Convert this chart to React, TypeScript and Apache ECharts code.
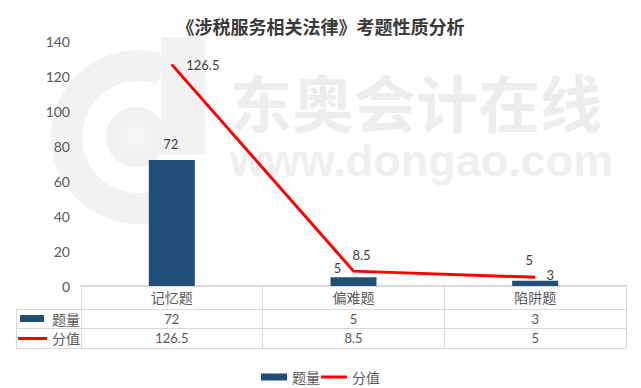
import React, { useEffect, useRef } from "react";
import * as echarts from "echarts";

const categories = ["记忆题", "偏难题", "陷阱题"];
const questionCounts = [72, 5, 3];
const scoreValues = [126.5, 8.5, 5];
const seriesNames = ["题量", "分值"];
const yMin = 0;
const yMax = 140;
const yInterval = 20;
const titleText = "《涉税服务相关法律》考题性质分析";
const watermarkCn = "东奥会计在线";
const watermarkEn = "www.dongao.com";

// layout / style constants
const BAR_COLOR = "#1F4E79";
const LINE_COLOR = "#FF0000";
const GRID_COLOR = "#D9D9D9";
const TEXT_COLOR = "#595959";
const LABEL_COLOR = "#404040";
const FONT = "Lato, 'Noto Sans CJK SC', sans-serif";
const WM = "#F2F2F2";
const barLabelOffsets = [[-1, -10], [-16, -3], [15, 1]];
const lineLabelOffsets = [[31, 7], [8, -9], [-6, -10]];

export default function App() {
  const ref = useRef<HTMLDivElement>(null);
  useEffect(() => {
    if (!ref.current) return;
    const chart = echarts.init(ref.current, null, { renderer: "svg" });
    const tableLeft = 16;
    const tableRight = 626;
    const rowLines = [309, 328, 348];
    const graphics: any[] = [
      // watermark logo
      {
        type: "sector",
        z: -10,
        silent: true,
        shape: { cx: 138, cy: 137, r0: 56, r: 87, startAngle: (70 * Math.PI) / 180, endAngle: (290 * Math.PI) / 180, clockwise: true },
        style: { fill: WM },
      },
      { type: "rect", z: -10, silent: true, shape: { x: 161, y: 37, width: 44, height: 118 }, style: { fill: WM } },
      {
        type: "circle",
        z: -10,
        silent: true,
        shape: { cx: 136, cy: 137, r: 30 },
        style: {
          fill: new echarts.graphic.RadialGradient(0.5, 0.5, 0.5, [
            { offset: 0, color: "#F7F7F7" },
            { offset: 1, color: "#F0F0F0" },
          ]),
        },
      },
      {
        type: "text",
        z: -10,
        silent: true,
        x: 230,
        y: 65,
        style: {
          text: `{cn|${watermarkCn}}\n{en|${watermarkEn}}`,
          verticalAlign: "top",
          align: "left",
          rich: {
            cn: { font: "bold 62px 'Noto Sans CJK SC'", fill: "#EDEDED", lineHeight: 72 },
            en: { font: "bold 45px 'Liberation Sans'", fill: "#EFEFEF", lineHeight: 46 },
          },
        },
      },
    ];
    rowLines.forEach((y) => {
      graphics.push({
        type: "line",
        shape: { x1: tableLeft, y1: y + 0.5, x2: tableRight, y2: y + 0.5 },
        style: { stroke: GRID_COLOR, lineWidth: 1 },
      });
    });
    graphics.push({
      type: "line",
      shape: { x1: tableLeft + 0.5, y1: rowLines[0], x2: tableLeft + 0.5, y2: rowLines[2] + 1 },
      style: { stroke: GRID_COLOR, lineWidth: 1 },
    });
    graphics.push({ type: "rect", shape: { x: 20, y: 315, width: 24, height: 7 }, style: { fill: BAR_COLOR } });
    graphics.push({ type: "line", shape: { x1: 18, y1: 338.5, x2: 47, y2: 338.5 }, style: { stroke: LINE_COLOR, lineWidth: 3 } });
    graphics.push({
      type: "text",
      x: 52,
      y: 319,
      style: { text: seriesNames[0], font: `14px ${FONT}`, fill: TEXT_COLOR, verticalAlign: "middle" },
    });
    graphics.push({
      type: "text",
      x: 52,
      y: 338.5,
      style: { text: seriesNames[1], font: `14px ${FONT}`, fill: TEXT_COLOR, verticalAlign: "middle" },
    });

    chart.setOption({
      animation: false,
      backgroundColor: "#FFFFFF",
      title: {
        text: titleText,
        left: "center",
        top: 12,
        textStyle: { fontFamily: "'Noto Sans CJK SC'", fontWeight: "bold", fontSize: 18, color: "#3A3A3A" },
      },
      grid: { left: 81, right: 15, top: 41, bottom: 102, containLabel: false },
      legend: {
        left: "center",
        top: 365,
        itemGap: 1,
        itemWidth: 26,
        itemHeight: 7,
        textStyle: { fontFamily: FONT, fontSize: 14, color: TEXT_COLOR },
        data: [
          { name: seriesNames[0], icon: "rect" },
          { name: seriesNames[1], icon: "path://M0,0h1v0.01h-1z M0,2h26v3h-26z M0,7h1v0.01h-1z", itemStyle: { color: LINE_COLOR } },
        ],
      },
      xAxis: [
        {
          type: "category",
          data: categories,
          position: "bottom",
          axisLine: { show: true, lineStyle: { color: GRID_COLOR, width: 2 } },
          axisTick: { show: true, length: 62, interval: 0, lineStyle: { color: GRID_COLOR, width: 1 } },
          axisLabel: { margin: 4, fontFamily: FONT, fontSize: 14, color: TEXT_COLOR },
        },
        {
          type: "category",
          data: questionCounts.map(String),
          position: "bottom",
          offset: 23,
          axisLine: { show: false },
          axisTick: { show: false },
          axisLabel: { margin: 3, fontFamily: FONT, fontSize: 13, color: TEXT_COLOR },
        },
        {
          type: "category",
          data: scoreValues.map(String),
          position: "bottom",
          offset: 42,
          axisLine: { show: false },
          axisTick: { show: false },
          axisLabel: { margin: 3, fontFamily: FONT, fontSize: 13, color: TEXT_COLOR },
        },
      ],
      yAxis: {
        type: "value",
        min: yMin,
        max: yMax,
        interval: yInterval,
        axisLine: { show: false },
        axisTick: { show: false },
        splitLine: { show: false },
        axisLabel: { margin: 11, fontFamily: FONT, fontSize: 14, color: TEXT_COLOR },
      },
      series: [
        {
          name: seriesNames[0],
          type: "bar",
          xAxisIndex: 0,
          barWidth: 46,
          itemStyle: { color: BAR_COLOR },
          data: questionCounts.map((v, i) => ({
            value: v,
            label: {
              show: true,
              position: "top",
              distance: 0,
              offset: barLabelOffsets[i],
              fontFamily: FONT,
              fontSize: 13,
              color: LABEL_COLOR,
            },
          })),
        },
        {
          name: seriesNames[1],
          type: "line",
          xAxisIndex: 0,
          symbol: "circle",
          symbolSize: 1,
          itemStyle: { color: LINE_COLOR },
          lineStyle: { color: LINE_COLOR, width: 3 },
          z: 3,
          data: scoreValues.map((v, i) => ({
            value: v,
            label: {
              show: true,
              position: "top",
              distance: 0,
              offset: lineLabelOffsets[i],
              fontFamily: FONT,
              fontSize: 13,
              color: LABEL_COLOR,
            },
          })),
        },
      ],
      graphic: graphics,
    });
    return () => chart.dispose();
  }, []);
  return <div ref={ref} style={{ position: "fixed", left: 0, top: 0, width: 641, height: 388 }} />;
}
